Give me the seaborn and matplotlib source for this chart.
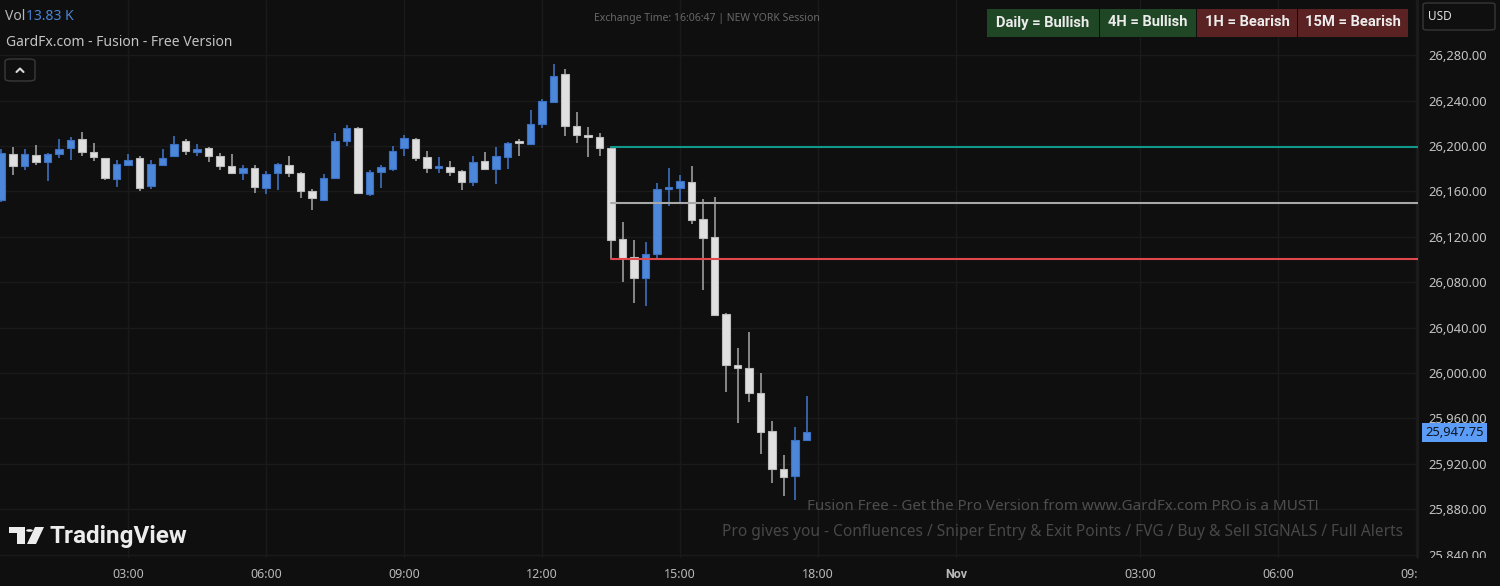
import numpy as np
import pandas as pd
import matplotlib
matplotlib.use("Agg")
import matplotlib.pyplot as plt
from matplotlib.patches import Rectangle, FancyBboxPatch, Polygon, Circle
from matplotlib.lines import Line2D
from matplotlib.transforms import blended_transform_factory
import seaborn as sns

# ---------------- data (15-minute candles) ----------------
opens = [26152, 26193, 26182, 26192, 26186, 26193, 26198, 26206, 26195, 26189,
         26171, 26183, 26189, 26165, 26183, 26191, 26204, 26195, 26198, 26191,
         26182, 26176, 26181, 26163, 26176, 26183, 26176, 26160, 26152, 26172,
         26204, 26216, 26158, 26177, 26180, 26198, 26206, 26190, 26181, 26181.5,
         26178, 26168, 26187, 26180, 26190, 26203.5, 26202, 26219, 26239, 26263,
         26218, 26210, 26208, 26198, 26118, 26102, 26084, 26105, 26162, 26163,
         26168, 26136, 26120, 26052, 26007, 26004, 25982, 25949, 25915, 25909,
         25941]
highs = [26197, 26199, 26197, 26201, 26194, 26206, 26208, 26212, 26203, 26189.5,
         26188, 26193, 26191, 26188, 26197, 26209, 26206, 26202, 26199, 26194,
         26193, 26183, 26183, 26178, 26185, 26191, 26177, 26162, 26175, 26211,
         26218.5, 26217, 26179, 26183, 26200, 26210, 26207, 26196, 26190, 26187,
         26179, 26191, 26195, 26199, 26203.5, 26206, 26232, 26241, 26272, 26268,
         26230, 26216.5, 26211, 26199, 26133, 26117, 26115, 26167, 26181, 26174,
         26182, 26153, 26155, 26053, 26022, 26036, 26000, 25958, 25928, 25952.5,
         25980]
lows = [26151, 26174, 26179, 26183, 26169, 26189, 26188, 26191, 26187, 26170,
        26164, 26182, 26160, 26162, 26183, 26190, 26192, 26191, 26186, 26179,
        26175, 26170, 26159, 26158, 26161, 26173, 26154, 26144, 26152, 26172,
        26200, 26159, 26156, 26163, 26178, 26191, 26187, 26176.5, 26176.5, 26173.5,
        26161, 26165, 26179, 26166.5, 26180, 26191, 26202, 26216, 26239, 26209,
        26203, 26190.5, 26191, 26100, 26080, 26062, 26059, 26100, 26147, 26150,
        26131, 26073, 26050, 25983, 25956, 25974, 25929, 25903, 25892, 25888,
        25941]
closes = [26194, 26182, 26193, 26186, 26193, 26197, 26205, 26195, 26190, 26172,
          26184, 26188, 26163, 26184, 26189, 26202, 26196, 26197, 26191, 26182,
          26176, 26181, 26164, 26175, 26184, 26176, 26160, 26154, 26172, 26204,
          26216, 26159, 26177, 26181.5, 26196, 26207, 26189, 26181, 26181.5, 26177,
          26168.5, 26186, 26179.5, 26191, 26203, 26202.75, 26219, 26240, 26262, 26218,
          26210, 26208, 26198, 26117, 26101, 26084, 26105, 26162, 26164, 26169,
          26135, 26119, 26051, 26007, 26004, 25982, 25948, 25915, 25908, 25941,
          25947.75]

time_tick_bars = [11, 23, 35, 47, 59, 71, 83, 99, 111, 123]
time_tick_labels = ["03:00", "06:00", "09:00", "12:00", "15:00", "18:00",
                    "Nov", "03:00", "06:00", "09:00"]
price_ticks = [25840, 25880, 25920, 25960, 26000, 26040, 26080, 26120,
               26160, 26200, 26240, 26280]

level_names = ["upper", "mid", "lower"]
level_values = [26199, 26150, 26100]
level_start_bar = 53
last_price = 25947.75

badge_labels = ["Daily = Bullish", "4H = Bullish", "1H = Bearish", "15M = Bearish"]
badge_states = ["bull", "bull", "bear", "bear"]

# ---------------- style ----------------
BG = "#0f0f0f"
GRID = "#1a1a1a"
TXT = "#b8b8b8"
UP_FILL, UP_EDGE, UP_WICK = "#4c87d9", "#3c70c2", "#3d70bd"
DN_FILL, DN_EDGE, DN_WICK = "#e0e0e0", "#bcbcbc", "#9c9c9c"

sns.set_theme(style="dark", rc={
    "axes.facecolor": BG, "figure.facecolor": BG, "grid.color": GRID,
    "axes.edgecolor": BG, "text.color": TXT, "xtick.color": TXT, "ytick.color": TXT,
})
plt.rcParams["font.family"] = ["Noto Sans", "DejaVu Sans"]
BOLD_FAMILY = ["Roboto", "DejaVu Sans"]

W, H = 1500, 586
fig = plt.figure(figsize=(W / 100, H / 100), dpi=100)
fig.patch.set_facecolor(BG)

def fx(x):
    return x / W

def fy(y):
    return 1 - y / H

def ftext(x, y, s, **kw):
    return fig.text(fx(x), fy(y), s, **kw)

def frect(x0, y0, x1, y1, **kw):
    r = Rectangle((fx(x0), fy(y1)), (x1 - x0) / W, (y1 - y0) / H,
                  transform=fig.transFigure, **kw)
    fig.add_artist(r)
    return r

ax = fig.add_axes([0, 28 / H, 1418 / W, 558 / H])
ax.set_facecolor(BG)

n = len(opens)
xs = np.arange(n)
o = np.array(opens, float)
c = np.array(closes, float)
hi = np.array(highs, float)
lo = np.array(lows, float)
up = c >= o

# wicks
ax.vlines(xs[up], lo[up], hi[up], color=UP_WICK, lw=1.2, zorder=2)
ax.vlines(xs[~up], lo[~up], hi[~up], color=DN_WICK, lw=1.2, zorder=2)
# bodies
bottom = np.minimum(o, c)
height = np.maximum(np.abs(c - o), 1.6)
ax.bar(xs[up], height[up], bottom=bottom[up], width=0.68, color=UP_FILL,
       edgecolor=UP_EDGE, linewidth=0.8, zorder=3)
ax.bar(xs[~up], height[~up], bottom=bottom[~up], width=0.68, color=DN_FILL,
       edgecolor=DN_EDGE, linewidth=0.8, zorder=3)

# level lines via seaborn
lv = pd.DataFrame({
    "bar": [level_start_bar, 140] * len(level_values),
    "price": [v for v in level_values for _ in range(2)],
    "level": [nm for nm in level_names for _ in range(2)],
})
sns.lineplot(data=lv, x="bar", y="price", hue="level",
             palette={"upper": "#12988a", "mid": "#a8a8a8", "lower": "#e0484c"},
             linewidth=1.5, legend=False, estimator=None, sort=False, ax=ax, zorder=4)

ax.set_xlim(-1.5 / 11.5, 1416.5 / 11.5)
ax.set_ylim(25837, 26328.6)

ax.set_xticks(time_tick_bars, time_tick_labels)
ax.yaxis.tick_right()
ax.set_yticks(price_ticks, [f"{p:,.2f}" for p in price_ticks])
ax.tick_params(axis="x", length=0, pad=7, labelsize=9, colors=TXT)
ax.tick_params(axis="y", length=0, pad=7.5, labelsize=9.3, colors="#c4c4c4")
ax.get_xticklabels()[6].set_fontweight("bold")
ax.get_xticklabels()[6].set_family(BOLD_FAMILY)
ax.grid(True, color=GRID, lw=1)
ax.set_xlabel("")
ax.set_ylabel("")
for s in ["top", "left", "bottom"]:
    ax.spines[s].set_visible(False)
ax.spines["right"].set_color("#1e1e1e")

# last price label
tr = blended_transform_factory(ax.transAxes, ax.transData)
ax.text(1 + 7 / 1418, last_price, f"{last_price:,.2f}", transform=tr,
        ha="left", va="center", fontsize=9.3, color="#0f1420",
        bbox=dict(boxstyle="square,pad=0.25", fc="#5b9cf6", ec="none"), zorder=6)

# cover bottom-right corner (clips overflowing labels like the reference)
frect(1418, 558, 1500, 586, fc=BG, ec="none", zorder=20)

# ---------------- header texts ----------------
ftext(5, 16, "Vol", fontsize=10, color="#b8b8b8", va="center", ha="left")
ftext(26, 16, "13.83 K", fontsize=10, color="#4a86d6", va="center", ha="left")
ftext(6, 42, "GardFx.com - Fusion - Free Version", fontsize=10, color="#c4c4c4",
      va="center", ha="left")
btn = FancyBboxPatch((fx(5), fy(81)), 30 / W, 22 / H, boxstyle="round,pad=0,rounding_size=0.004",
                     transform=fig.transFigure, fc=BG, ec="#3a3a3a", lw=1)
fig.add_artist(btn)
fig.add_artist(Line2D([fx(16.5), fx(20), fx(23.5)], [fy(72), fy(68.5), fy(72)],
                      transform=fig.transFigure, color="#d8d8d8", lw=1.5))

ftext(707, 18, "Exchange Time: 16:06:47 | NEW YORK Session", fontsize=7.5,
      color="#686868", ha="center", va="center")

badge_x = [(987, 1099), (1100, 1196), (1197, 1297), (1298, 1408)]
for (x0, x1), lab, st in zip(badge_x, badge_labels, badge_states):
    frect(x0, 9, x1, 37, fc="#1f4725" if st == "bull" else "#5a2222", ec="none", zorder=2)
    ftext((x0 + x1) / 2, 22.5, lab, fontsize=10.6, fontweight="bold", family=BOLD_FAMILY,
          color="#ececec", ha="center", va="center", zorder=3)

usd = FancyBboxPatch((fx(1423), fy(30)), 72 / W, 27 / H,
                     boxstyle="round,pad=0,rounding_size=0.003",
                     transform=fig.transFigure, fc=BG, ec="#363636", lw=1)
fig.add_artist(usd)
ftext(1428, 16, "USD", fontsize=8.5, color="#e0e0e0", ha="left", va="center")

# ---------------- watermark texts ----------------
ftext(1063, 506, "Fusion Free - Get the Pro Version from www.GardFx.com PRO is a MUST!",
      fontsize=10.9, color="#4e4e4e", ha="center", va="center")
ftext(1063, 532, "Pro gives you - Confluences / Sniper Entry & Exit Points / FVG / Buy & Sell SIGNALS / Full Alerts",
      fontsize=11.15, color="#484848", ha="center", va="center")

# TradingView logo
LOGO = "#ececec"
frect(9, 527, 25, 533, fc=LOGO, ec="none")
frect(17, 527, 25, 544, fc=LOGO, ec="none")
fig.add_artist(Circle((fx(29.5), fy(530.5)), 3.4 / W, transform=fig.transFigure,
                      fc=LOGO, ec="none"))
fig.add_artist(Polygon([(fx(35), fy(527)), (fx(44), fy(527)), (fx(36), fy(544)), (fx(27), fy(544))],
                       closed=True, transform=fig.transFigure, fc=LOGO, ec="none"))
ftext(50, 537, "TradingView", fontsize=17.5, fontweight="bold", family=BOLD_FAMILY,
      color=LOGO, ha="left", va="center")

fig.savefig("out.png", dpi=100, facecolor=BG)
